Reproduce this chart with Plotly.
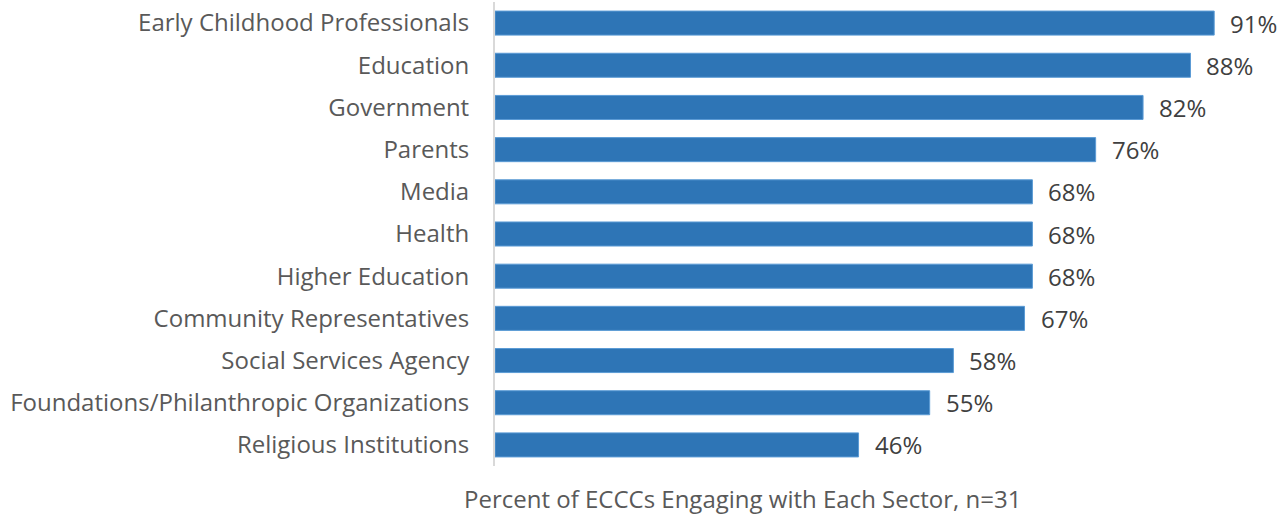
import plotly.graph_objects as go

categories = [
    "Early Childhood Professionals",
    "Education",
    "Government",
    "Parents",
    "Media",
    "Health",
    "Higher Education",
    "Community Representatives",
    "Social Services Agency",
    "Foundations/Philanthropic Organizations",
    "Religious Institutions",
]
values = [91, 88, 82, 76, 68, 68, 68, 67, 58, 55, 46]
value_labels = [f"{v}%" for v in values]
x_title = "Percent of ECCCs Engaging with Each Sector, n=31"

FONT = "Open Sans"
fig = go.Figure()
fig.add_trace(go.Bar(
    x=values,
    y=categories,
    orientation="h",
    marker=dict(color="#2E75B6", line=dict(color="#5B9BD5", width=1)),
    hoverinfo="skip",
))

for v, c, t in zip(values, categories, value_labels):
    fig.add_annotation(
        x=v, y=c, text=t, showarrow=False, xanchor="left", yanchor="middle",
        xshift=14, font=dict(family=FONT, size=24, color="#404040"),
    )

fig.add_annotation(
    xref="paper", yref="paper", x=0.316, y=0, yshift=-32,
    text=x_title, showarrow=False, xanchor="center", yanchor="middle",
    borderpad=0,
    font=dict(family=FONT, size=24, color="#595959"),
)

fig.update_layout(
    width=1279, height=516,
    margin=dict(l=495, r=0, t=2, b=50),
    paper_bgcolor="white", plot_bgcolor="white",
    bargap=0.43,
    showlegend=False,
    font=dict(family=FONT, size=24, color="#595959"),
)
fig.update_xaxes(range=[0, 99.2], showgrid=False, showticklabels=False,
                 zeroline=False, showline=False, ticks="")
fig.update_yaxes(categoryorder="array", categoryarray=categories[::-1],
                 showgrid=False, zeroline=False, showline=True,
                 linecolor="#D9D9D9", linewidth=2, ticks="",
                 ticklabelstandoff=19,
                 tickfont=dict(family=FONT, size=24, color="#595959"))

fig.write_html("out.html")
